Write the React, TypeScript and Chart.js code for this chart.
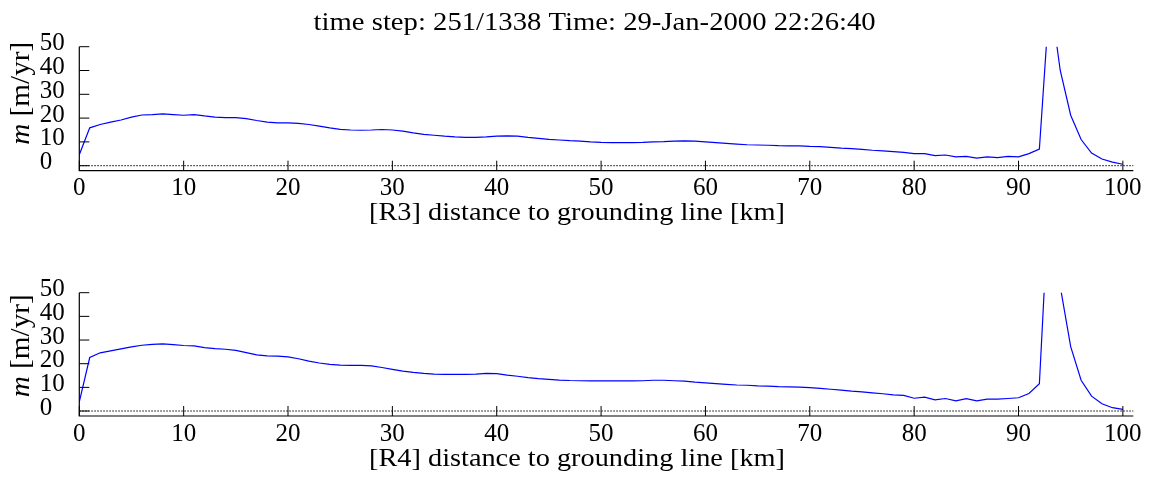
import React, { useEffect, useRef } from "react";
import { Chart, registerables } from "chart.js";

Chart.register(...registerables);

// ---------------- data ----------------
const distanceKm = [
  0, 1, 2, 3, 4, 5, 6, 7, 8, 9, 10, 11, 12, 13, 14, 15, 16, 17, 18, 19, 20,
  21, 22, 23, 24, 25, 26, 27, 28, 29, 30, 31, 32, 33, 34, 35, 36, 37, 38, 39, 40,
  41, 42, 43, 44, 45, 46, 47, 48, 49, 50, 51, 52, 53, 54, 55, 56, 57, 58, 59, 60,
  61, 62, 63, 64, 65, 66, 67, 68, 69, 70, 71, 72, 73, 74, 75, 76, 77, 78, 79, 80,
  81, 82, 83, 84, 85, 86, 87, 88, 89, 90, 91, 92, 93, 94, 95, 96, 97, 98, 99, 100,
];

const meltR3 = [
  4.6, 15.9, 17.3, 18.3, 19.2, 20.4, 21.3, 21.5, 21.8, 21.5, 21.2,
  21.5, 20.9, 20.4, 20.2, 20.2, 19.8, 19.0, 18.3, 18.0, 18.0,
  17.8, 17.3, 16.6, 15.9, 15.3, 15.0, 14.9, 15.0, 15.2, 15.0,
  14.5, 13.8, 13.2, 12.8, 12.4, 12.1, 11.9, 11.9, 12.1, 12.4,
  12.5, 12.4, 11.9, 11.5, 11.1, 10.8, 10.5, 10.3, 10.0, 9.8,
  9.7, 9.7, 9.7, 9.8, 10.0, 10.1, 10.3, 10.4, 10.3, 10.0,
  9.7, 9.4, 9.1, 8.8, 8.7, 8.6, 8.4, 8.3, 8.3, 8.1,
  8.0, 7.7, 7.4, 7.2, 6.9, 6.5, 6.2, 5.9, 5.6, 5.1,
  5.1, 4.2, 4.5, 3.7, 3.9, 3.2, 3.7, 3.4, 3.9, 3.7,
  5.1, 7.0, 72, 40, 21.2, 11.0, 5.3, 2.8, 1.5, 0.6,
];

const meltR4 = [
  3.9, 22.6, 24.6, 25.4, 26.3, 27.1, 27.8, 28.2, 28.4, 28.1, 27.7,
  27.5, 26.8, 26.4, 26.1, 25.6, 24.7, 23.7, 23.3, 23.2, 22.9,
  22.1, 21.1, 20.3, 19.7, 19.4, 19.3, 19.3, 19.1, 18.4, 17.6,
  16.9, 16.3, 15.9, 15.6, 15.5, 15.5, 15.5, 15.6, 15.9, 15.8,
  15.2, 14.7, 14.1, 13.7, 13.4, 13.1, 12.9, 12.8, 12.7, 12.7,
  12.7, 12.7, 12.7, 12.8, 13.0, 13.0, 12.8, 12.6, 12.2, 11.9,
  11.6, 11.3, 11.0, 10.9, 10.6, 10.5, 10.3, 10.2, 10.1, 9.9,
  9.6, 9.2, 8.8, 8.4, 8.1, 7.7, 7.3, 6.8, 6.6, 5.4,
  5.9, 4.7, 5.3, 4.3, 5.2, 4.3, 5.0, 5.0, 5.3, 5.6,
  7.4, 11.5, 97, 52.6, 27.2, 13.0, 6.3, 3.1, 1.4, 0.7,
];

const xTickValues = [0, 10, 20, 30, 40, 50, 60, 70, 80, 90, 100];
const yTickValues = [0, 10, 20, 30, 40, 50];

const titleText = "time step: 251/1338 Time: 29-Jan-2000 22:26:40";
const xLabelR3 = "[R3] distance to grounding line [km]";
const xLabelR4 = "[R4] distance to grounding line [km]";
const yLabelVar = "m";
const yLabelUnit = " [m/yr]";

const X_MIN = 0;
const X_MAX = 101;
const Y_MIN = -2.1;
const Y_MAX = 50;

// ---------------- styling ----------------
const FONT_FAMILY = '"Liberation Serif", "Times New Roman", serif';
const FONT_SIZE = 25;
const LINE_COLOR = "#0000ff";

type PanelCfg = {
  values: number[];
  xLabel: string;
  showTitle: boolean;
  padTop: number;
  xAxisHeight: number;
  yLabelCenter: number;
};

function drawStretched(ctx: any, text: string, cx: number, y: number, font: string, width: number) {
  ctx.save();
  ctx.font = font;
  const w = ctx.measureText(text).width;
  ctx.translate(cx, y);
  ctx.scale(width / w, 1);
  ctx.textAlign = "center";
  ctx.fillText(text, 0, 0);
  ctx.restore();
}

const matlabAxesPlugin = {
  id: "matlabAxes",
  beforeDatasetsDraw(chart: any) {
    const ctx = chart.ctx;
    const ca = chart.chartArea;
    const ys = chart.scales.y;
    const y0 = ys.getPixelForValue(0);
    ctx.save();
    ctx.strokeStyle = "#000";
    ctx.lineWidth = 1;
    ctx.setLineDash([1.5, 1.5]);
    ctx.beginPath();
    ctx.moveTo(ca.left, y0);
    ctx.lineTo(ca.right, y0);
    ctx.stroke();
    ctx.restore();
  },
  afterDraw(chart: any, _args: any, opts: any) {
    const ctx = chart.ctx;
    const ca = chart.chartArea;
    const xs = chart.scales.x;
    const ys = chart.scales.y;
    ctx.save();
    ctx.strokeStyle = "#000";
    ctx.lineWidth = 1.2;
    ctx.setLineDash([]);
    ctx.beginPath();
    ctx.moveTo(ca.left, ca.top);
    ctx.lineTo(ca.left, ca.bottom);
    ctx.lineTo(ca.right, ca.bottom);
    ctx.stroke();

    ctx.lineWidth = 1;
    ctx.beginPath();
    xs.ticks.forEach((t: any) => {
      const px = xs.getPixelForValue(t.value);
      ctx.moveTo(px, ca.bottom);
      ctx.lineTo(px, ca.bottom - 10);
    });
    ys.ticks.forEach((t: any) => {
      const py = ys.getPixelForValue(t.value);
      ctx.moveTo(ca.left, py);
      ctx.lineTo(ca.left + 10, py);
    });
    ctx.stroke();

    ctx.fillStyle = "#000";
    const baseFont = `${FONT_SIZE}px ${FONT_FAMILY}`;

    // y tick labels: left aligned, as in the reference
    ctx.font = baseFont;
    ctx.textAlign = "left";
    ctx.textBaseline = "middle";
    ys.ticks.forEach((t: any) => {
      const py = ys.getPixelForValue(t.value);
      ctx.fillText(String(t.value), ca.left - 39.5, py - 3);
    });

    ctx.textBaseline = "alphabetic";
    if (opts.showTitle) {
      drawStretched(ctx, titleText, ca.left + 515.3, 29.5, `26px ${FONT_FAMILY}`, 562);
    }
    drawStretched(ctx, opts.xLabel, ca.left + 497.7, ca.bottom + 49.5, `26px ${FONT_FAMILY}`, 416);

    // y label, rotated, with italic variable name
    ctx.save();
    ctx.translate(21.7, ca.top + opts.yLabelCenter);
    ctx.rotate(-Math.PI / 2);
    ctx.textAlign = "left";
    ctx.textBaseline = "middle";
    const italicFont = `italic 27px ${FONT_FAMILY}`;
    const uprightFont = `27px ${FONT_FAMILY}`;
    ctx.font = italicFont;
    const w1 = ctx.measureText(yLabelVar).width;
    ctx.font = uprightFont;
    const w2 = ctx.measureText(yLabelUnit).width;
    const sx = 103 / (w1 + w2);
    ctx.scale(sx, 1);
    const start = -(w1 + w2) / 2;
    ctx.font = italicFont;
    ctx.fillText(yLabelVar, start, 0);
    ctx.font = uprightFont;
    ctx.fillText(yLabelUnit, start + w1, 0);
    ctx.restore();

    ctx.restore();
  },
};

function makeConfig(cfg: PanelCfg): any {
  return {
    type: "line",
    data: {
      datasets: [
        {
          data: distanceKm.map((x, i) => ({ x, y: cfg.values[i] })),
          borderColor: LINE_COLOR,
          borderWidth: 1.2,
          pointRadius: 0,
          tension: 0,
          fill: false,
        },
      ],
    },
    options: {
      animation: false,
      responsive: false,
      devicePixelRatio: 1,
      layout: { padding: { top: cfg.padTop, right: 28.7, left: 0, bottom: 0 } },
      plugins: {
        legend: { display: false },
        tooltip: { enabled: false },
        title: { display: false },
        matlabAxes: {
          showTitle: cfg.showTitle,
          xLabel: cfg.xLabel,
          yLabelCenter: cfg.yLabelCenter,
        },
      },
      scales: {
        x: {
          type: "linear",
          min: X_MIN,
          max: X_MAX,
          grid: { display: false, drawTicks: false },
          border: { display: false },
          ticks: {
            color: "#000",
            font: { size: FONT_SIZE, family: FONT_FAMILY },
            padding: 3,
            maxRotation: 0,
            autoSkip: false,
          },
          afterBuildTicks: (s: any) => {
            s.ticks = xTickValues.map((v) => ({ value: v }));
          },
          afterFit: (s: any) => {
            s.height = cfg.xAxisHeight;
          },
        },
        y: {
          type: "linear",
          min: Y_MIN,
          max: Y_MAX,
          grid: { display: false, drawTicks: false },
          border: { display: false },
          ticks: { display: false },
          afterBuildTicks: (s: any) => {
            s.ticks = yTickValues.map((v) => ({ value: v }));
          },
          afterFit: (s: any) => {
            s.width = 79.3;
          },
        },
      },
    },
    plugins: [matlabAxesPlugin],
  };
}

export default function App() {
  const topRef = useRef<HTMLCanvasElement | null>(null);
  const botRef = useRef<HTMLCanvasElement | null>(null);

  useEffect(() => {
    if (!topRef.current || !botRef.current) return;
    const c1 = new Chart(
      topRef.current,
      makeConfig({
        values: meltR3,
        xLabel: xLabelR3,
        showTitle: true,
        padTop: 46.7,
        xAxisHeight: 240 - 170.7,
        yLabelCenter: 46.6,
      })
    );
    const c2 = new Chart(
      botRef.current,
      makeConfig({
        values: meltR4,
        xLabel: xLabelR4,
        showTitle: false,
        padTop: 52.7,
        xAxisHeight: 240 - 176,
        yLabelCenter: 53.1,
      })
    );
    return () => {
      c1.destroy();
      c2.destroy();
    };
  }, []);

  return (
    <div
      style={{
        position: "absolute",
        left: 0,
        top: 0,
        width: 1162,
        height: 480,
        background: "#fff",
      }}
    >
      <canvas ref={topRef} width={1162} height={240} style={{ display: "block" }} />
      <canvas ref={botRef} width={1162} height={240} style={{ display: "block" }} />
    </div>
  );
}
